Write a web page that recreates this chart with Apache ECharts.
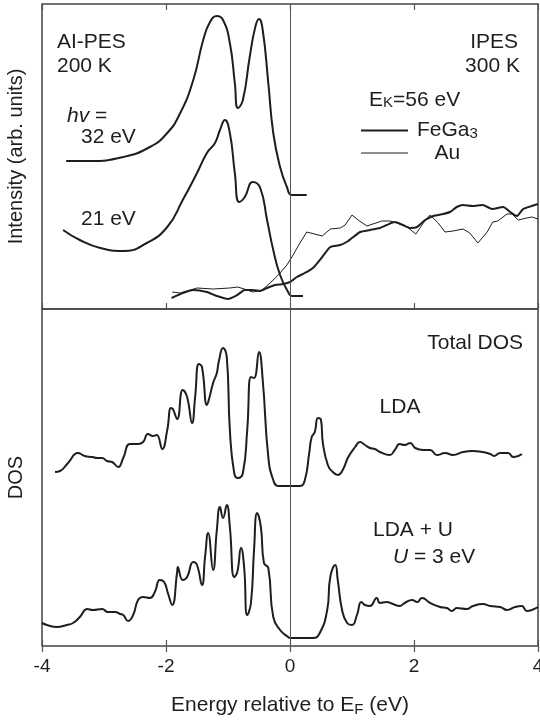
<!DOCTYPE html>
<html>
<head>
<meta charset="utf-8">
<script src="https://cdn.jsdelivr.net/npm/echarts@6/dist/echarts.min.js"></script>
<style>
  html, body { margin: 0; padding: 0; background: #fff; }
  #chart { width: 540px; height: 722px; }
</style>
</head>
<body>
<div id="chart"></div>
<script>
// AI-PES, hv = 32 eV
var pes32E = [-3.61, -3.23, -2.69, -2.26, -1.98, -1.77, -1.56, -1.40, -1.29, -1.18, -1.08, -0.97, -0.89, -0.84, -0.76, -0.65, -0.56, -0.50, -0.44, -0.35, -0.27, -0.16, -0.05, 0.03, 0.27];
var pes32I = [148, 148, 152, 162, 176, 196, 229, 269, 287, 293, 289, 266, 226, 201, 209, 252, 282, 290, 279, 226, 176, 142, 122, 114, 114];

// AI-PES, hv = 21 eV
var pes21E = [-3.66, -3.39, -3.06, -2.69, -2.31, -1.98, -1.73, -1.50, -1.34, -1.21, -1.13, -1.05, -0.97, -0.89, -0.82, -0.73, -0.60, -0.48, -0.37, -0.27, -0.16, -0.03, 0.03, 0.21];
var pes21I = [79, 69, 61, 58, 66, 82, 109, 136, 156, 166, 179, 189, 176, 136, 107, 112, 127, 121, 89, 59, 34, 17, 13, 13];

// IPES FeGa3
var ipesFeE = [-1.91, -1.73, -1.56, -1.34, -1.18, -1.00, -0.85, -0.73, -0.60, -0.48, -0.37, -0.24, -0.11, 0.00, 0.11, 0.24, 0.37, 0.52, 0.65, 0.81, 0.94, 1.13, 1.29, 1.45, 1.56, 1.69, 1.82, 1.94, 2.05, 2.18, 2.31, 2.47, 2.58, 2.69, 2.79, 2.94, 3.11, 3.26, 3.44, 3.55, 3.66, 3.76, 3.90, 4.00];
var ipesFeI = [11, 16, 19, 17, 13, 10, 14, 19, 19, 18, 21, 24, 25, 27, 32, 36, 41, 52, 62, 64, 68, 77, 79, 81, 84, 87, 84, 81, 82, 89, 93, 95, 97, 102, 104, 103, 104, 100, 102, 97, 93, 100, 103, 105];

// IPES Au
var ipesAuE = [-1.90, -1.77, -1.50, -1.24, -0.97, -0.84, -0.69, -0.60, -0.45, -0.32, -0.19, -0.05, 0.05, 0.15, 0.27, 0.52, 0.65, 0.81, 0.89, 1.00, 1.10, 1.24, 1.48, 1.61, 1.73, 1.89, 2.03, 2.15, 2.26, 2.39, 2.50, 2.63, 2.79, 2.90, 3.03, 3.18, 3.27, 3.35, 3.50, 3.58, 3.68, 3.82, 3.90, 4.00];
var ipesAuI = [17, 16, 21, 20, 21, 22, 19, 17, 19, 26, 34, 44, 54, 65, 77, 73, 80, 81, 84, 94, 89, 83, 88, 88, 86, 82, 75, 86, 94, 86, 77, 78, 80, 76, 66, 77, 87, 88, 95, 95, 89, 91, 92, 90];

// Total DOS, LDA
var ldaE = [-3.79, -3.71, -3.58, -3.42, -3.31, -3.19, -3.11, -3.03, -2.95, -2.87, -2.77, -2.69, -2.58, -2.45, -2.37, -2.29, -2.21, -2.15, -2.06, -1.98, -1.92, -1.89, -1.82, -1.73, -1.66, -1.58, -1.53, -1.47, -1.42, -1.34, -1.31, -1.24, -1.18, -1.15, -1.08, -1.02, -0.97, -0.90, -0.84, -0.76, -0.69, -0.63, -0.58, -0.50, -0.44, -0.35, -0.27, -0.19, 0.00, 0.16, 0.24, 0.31, 0.35, 0.40, 0.45, 0.50, 0.53, 0.61, 0.69, 0.77, 0.85, 0.94, 1.05, 1.13, 1.21, 1.29, 1.37, 1.45, 1.61, 1.69, 1.77, 1.85, 1.94, 2.02, 2.15, 2.26, 2.37, 2.50, 2.63, 2.79, 2.94, 3.11, 3.23, 3.29, 3.39, 3.52, 3.60, 3.68, 3.74];
var ldaD = [174, 175, 183, 193, 190, 189, 188, 188, 185, 184, 179, 188, 202, 202, 204, 212, 210, 211, 197, 216, 238, 237, 227, 256, 249, 223, 249, 282, 279, 241, 246, 263, 273, 284, 298, 289, 216, 173, 168, 173, 216, 269, 268, 294, 266, 189, 166, 160, 160, 160, 166, 193, 209, 214, 228, 226, 203, 181, 174, 171, 176, 189, 199, 204, 201, 198, 197, 194, 191, 196, 202, 201, 203, 198, 196, 196, 191, 193, 191, 194, 195, 194, 192, 190, 193, 193, 189, 190, 192];

// Total DOS, LDA + U (U = 3 eV)
var ldauE = [-4.00, -3.92, -3.76, -3.60, -3.50, -3.39, -3.27, -3.18, -3.03, -2.94, -2.82, -2.74, -2.69, -2.61, -2.53, -2.45, -2.37, -2.26, -2.18, -2.10, -2.03, -1.97, -1.90, -1.82, -1.81, -1.73, -1.66, -1.56, -1.50, -1.42, -1.37, -1.32, -1.24, -1.18, -1.13, -1.08, -1.02, -0.97, -0.90, -0.85, -0.79, -0.74, -0.69, -0.63, -0.58, -0.53, -0.47, -0.42, -0.35, -0.27, -0.16, -0.03, 0.00, 0.37, 0.48, 0.60, 0.65, 0.73, 0.77, 0.84, 0.92, 1.00, 1.08, 1.15, 1.21, 1.29, 1.40, 1.45, 1.56, 1.66, 1.77, 1.85, 1.97, 2.05, 2.13, 2.26, 2.42, 2.53, 2.61, 2.69, 2.85, 2.95, 3.11, 3.23, 3.39, 3.50, 3.63, 3.74, 3.82, 3.90, 4.00];
var ldauD = [23, 21, 19, 21, 23, 29, 37, 36, 37, 34, 34, 32, 31, 25, 31, 46, 49, 48, 54, 66, 64, 53, 41, 74, 79, 66, 69, 84, 81, 61, 89, 113, 76, 116, 139, 128, 141, 119, 69, 74, 98, 79, 31, 43, 96, 133, 119, 83, 78, 29, 16, 9, 8, 8, 13, 36, 69, 81, 66, 36, 23, 21, 31, 44, 41, 40, 48, 43, 44, 42, 40, 43, 46, 44, 48, 43, 39, 38, 35, 38, 37, 40, 42, 40, 39, 36, 39, 40, 35, 36, 39];

var xTicks = { min: -4, max: 4, interval: 2 };

function pairs(xs, ys) {
  return xs.map(function (x, i) { return [x, ys[i]]; });
}

var FONT = 'Liberation Sans, Arial, Helvetica, sans-serif';
var INK = '#1e1e1e';

var chart = echarts.init(document.getElementById('chart'), null, { renderer: 'canvas' });

function xAxis(grid, pos, labels) {
  return {
    type: 'value', gridIndex: grid, position: pos,
    min: xTicks.min, max: xTicks.max, interval: xTicks.interval,
    axisLine: { show: false },
    axisTick: { show: true, inside: true, length: 6, lineStyle: { color: '#555', width: 1.2 } },
    axisLabel: { show: labels, fontFamily: FONT, fontSize: 19, color: INK, margin: 11 },
    splitLine: { show: false }
  };
}

var zeroLine = {
  silent: true, symbol: 'none',
  label: { show: false },
  lineStyle: { color: '#555', width: 1, type: 'solid' },
  data: [{ xAxis: 0 }]
};

function curve(name, xi, yi, data, width, smooth, extra) {
  var s = {
    name: name, type: 'line', xAxisIndex: xi, yAxisIndex: yi,
    data: data, symbol: 'none', showSymbol: false,
    smooth: smooth,
    lineStyle: { color: INK, width: width },
    itemStyle: { color: INK },
    animation: false
  };
  return Object.assign(s, extra || {});
}

function label(text, x, y, align, rich) {
  return {
    type: 'text', x: x, y: y, silent: true,
    style: {
      text: text, align: align || 'left', verticalAlign: 'middle',
      font: '21px ' + FONT, fill: INK, rich: rich
    }
  };
}

var italic = { i: { fontStyle: 'italic', fontSize: 21, fontFamily: FONT, fill: INK, color: INK } };

var option = {
  backgroundColor: '#fff',
  animation: false,
  grid: [
    { left: 42, right: 2, top: 4, height: 305, show: true, borderColor: '#444', borderWidth: 1.5, outerBoundsMode: 'none', containLabel: false },
    { left: 42, right: 2, top: 309, height: 337, show: true, borderColor: '#444', borderWidth: 1.5, outerBoundsMode: 'none', containLabel: false }
  ],
  xAxis: [
    xAxis(0, 'bottom', false),
    xAxis(0, 'top', false),
    xAxis(1, 'top', false),
    Object.assign(xAxis(1, 'bottom', true), {
      name: 'Energy relative to E{s|F} (eV)',
      nameLocation: 'middle', nameGap: 47,
      nameTextStyle: {
        fontFamily: FONT, fontSize: 21, color: INK,
        rich: { s: { fontFamily: FONT, fontSize: 15, color: INK, padding: [9, 0, 0, 0] } }
      }
    })
  ],
  yAxis: [
    {
      type: 'value', gridIndex: 0, min: 0, max: 305,
      axisLine: { show: false }, axisTick: { show: false }, axisLabel: { show: false }, splitLine: { show: false },
      name: 'Intensity (arb. units)', nameLocation: 'middle', nameGap: 16,
      nameTextStyle: { fontFamily: FONT, fontSize: 20, color: INK }
    },
    {
      type: 'value', gridIndex: 1, min: 0, max: 337,
      axisLine: { show: false }, axisTick: { show: false }, axisLabel: { show: false }, splitLine: { show: false },
      name: 'DOS', nameLocation: 'middle', nameGap: 16,
      nameTextStyle: { fontFamily: FONT, fontSize: 20, color: INK }
    }
  ],
  legend: {
    data: [
      { name: 'FeGa3', lineStyle: { width: 2 } },
      { name: 'Au', lineStyle: { width: 1 } }
    ],
    orient: 'vertical', left: 360, top: 120, padding: 0,
    itemWidth: 47, itemHeight: 18, itemGap: 1,
    selectedMode: false,
    itemStyle: { opacity: 0 },
    formatter: function (n) { return n === 'FeGa3' ? 'FeGa{s|3}' : '   ' + n; },
    textStyle: {
      fontFamily: FONT, fontSize: 21, color: INK, padding: [0, 0, 0, 4],
      rich: { s: { fontFamily: FONT, fontSize: 15, color: INK, padding: [7, 0, 0, 0] } }
    }
  },
  series: [
    curve('PES 32 eV', 0, 0, pairs(pes32E, pes32I), 2, 0.5),
    curve('PES 21 eV', 0, 0, pairs(pes21E, pes21I), 2, 0.5),
    curve('FeGa3', 0, 0, pairs(ipesFeE, ipesFeI), 2, 0.2, { markLine: zeroLine }),
    curve('Au', 0, 0, pairs(ipesAuE, ipesAuI), 1, false),
    curve('LDA', 3, 1, pairs(ldaE, ldaD), 2, 0.5, { markLine: zeroLine }),
    curve('LDA + U', 3, 1, pairs(ldauE, ldauD), 2, 0.5)
  ],
  graphic: [
    label('AI-PES', 57, 42),
    label('200 K', 57, 66),
    label('{i|hv} =', 67, 116, 'left', italic),
    label('32 eV', 81, 137),
    label('21 eV', 81, 219),
    label('IPES', 518, 42, 'right'),
    label('300 K', 520, 66, 'right'),
    label('E{s|K}=56 eV', 369, 100, 'left', { s: { fontSize: 15, fontFamily: FONT, fill: INK, color: INK, padding: [6, 0, 0, 0] } }),
    label('Total DOS', 523, 343, 'right'),
    label('LDA', 400, 407, 'center'),
    label('LDA + U', 373, 530),
    label('{i|U} = 3 eV', 393, 557, 'left', italic)
  ]
};

chart.setOption(option);
</script>
</body>
</html>
